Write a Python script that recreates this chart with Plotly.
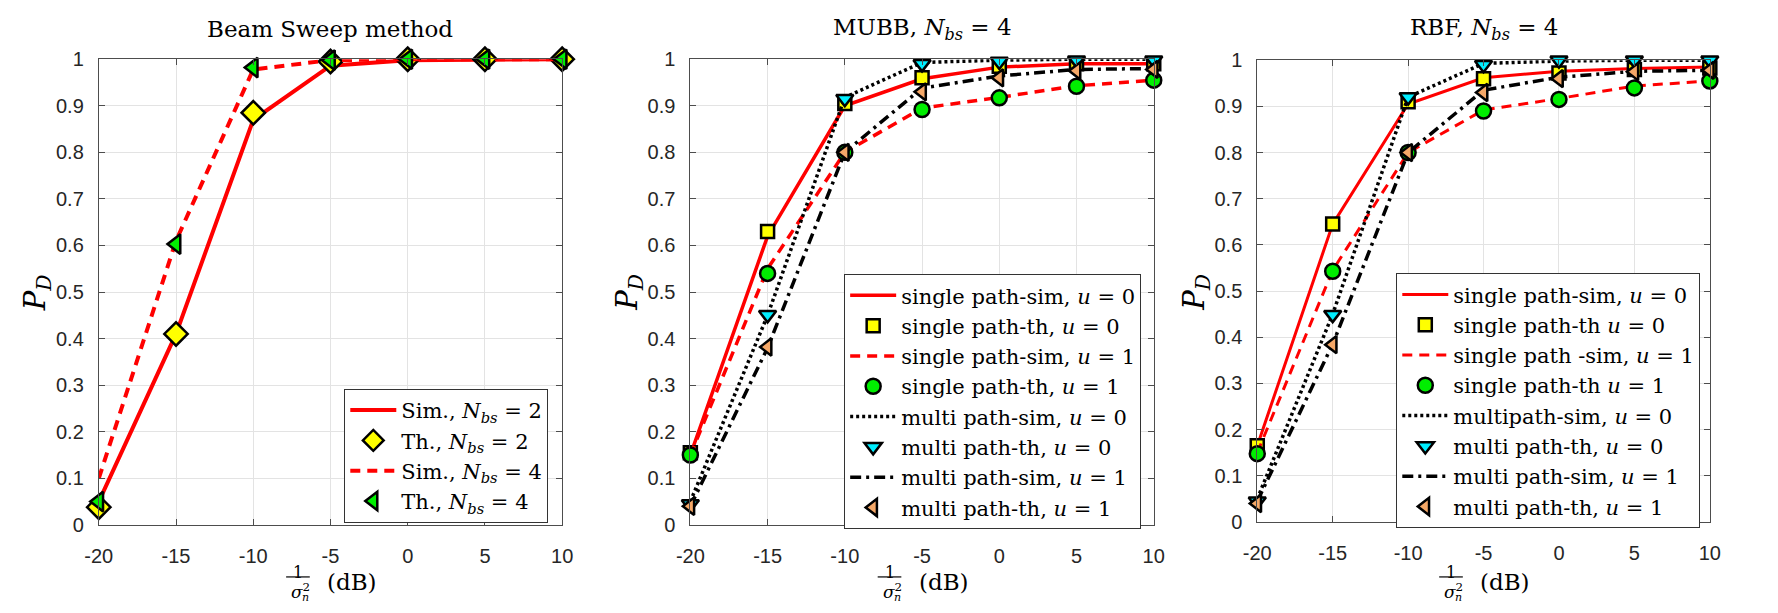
import plotly.graph_objects as go

# ---------------- data ----------------
X_DB = [-20, -15, -10, -5, 0, 5, 10]
X_TICK_VALS = [-20, -15, -10, -5, 0, 5, 10]
X_TICK_TEXT = ["-20", "-15", "-10", "-5", "0", "5", "10"]
Y_TICK_VALS = [0, 0.1, 0.2, 0.3, 0.4, 0.5, 0.6, 0.7, 0.8, 0.9, 1.0]
Y_TICK_TEXT = ["0", "0.1", "0.2", "0.3", "0.4", "0.5", "0.6", "0.7", "0.8", "0.9", "1"]

PANEL_TITLES = ["Beam Sweep method",
                "MUBB, <i>N</i><sub><i>bs</i></sub> = 4",
                "RBF, <i>N</i><sub><i>bs</i></sub> = 4"]

# Beam sweep panel
BS_SIM_N2 = [0.05, 0.41, 0.870, 0.986, 0.998, 1.0, 1.0]
BS_TH_N2 = [0.038, 0.41, 0.885, 0.995, 1.0, 1.0, 1.0]
BS_SIM_N4 = [0.10, 0.61, 0.978, 0.998, 1.0, 1.0, 1.0]
BS_TH_N4 = [0.05, 0.603, 0.982, 0.998, 1.0, 1.0, 1.0]
BS_LABELS = ["Sim., <i>N</i><sub><i>bs</i></sub> = 2",
             "Th., <i>N</i><sub><i>bs</i></sub> = 2",
             "Sim., <i>N</i><sub><i>bs</i></sub> = 4",
             "Th., <i>N</i><sub><i>bs</i></sub> = 4"]

# MUBB panel
MU_SP_SIM_U0 = [0.15, 0.62, 0.90, 0.958, 0.983, 0.99, 0.99]
MU_SP_TH_U0 = [0.155, 0.63, 0.905, 0.96, 0.985, 0.99, 0.99]
MU_SP_SIM_U1 = [0.15, 0.55, 0.80, 0.895, 0.918, 0.943, 0.955]
MU_SP_TH_U1 = [0.15, 0.54, 0.80, 0.892, 0.917, 0.942, 0.955]
MU_MP_SIM_U0 = [0.05, 0.45, 0.918, 0.993, 0.998, 1.0, 1.0]
MU_MP_TH_U0 = [0.045, 0.451, 0.915, 0.99, 0.995, 0.998, 0.998]
MU_MP_SIM_U1 = [0.04, 0.38, 0.80, 0.938, 0.964, 0.978, 0.98]
MU_MP_TH_U1 = [0.04, 0.382, 0.80, 0.93, 0.96, 0.975, 0.978]
MU_LABELS = ["single path-sim, <i>u</i> = 0",
             "single path-th, <i>u</i> = 0",
             "single path-sim, <i>u</i> = 1",
             "single path-th, <i>u</i> = 1",
             "multi path-sim, <i>u</i> = 0",
             "multi path-th, <i>u</i> = 0",
             "multi path-sim, <i>u</i> = 1",
             "multi path-th, <i>u</i> = 1"]

# RBF panel
RB_SP_SIM_U0 = [0.165, 0.645, 0.905, 0.962, 0.976, 0.982, 0.985]
RB_SP_TH_U0 = [0.165, 0.645, 0.91, 0.96, 0.972, 0.98, 0.983]
RB_SP_SIM_U1 = [0.15, 0.545, 0.80, 0.892, 0.917, 0.944, 0.955]
RB_SP_TH_U1 = [0.148, 0.543, 0.80, 0.89, 0.915, 0.94, 0.955]
RB_MP_SIM_U0 = [0.05, 0.45, 0.92, 0.993, 0.998, 1.0, 1.0]
RB_MP_TH_U0 = [0.045, 0.449, 0.92, 0.99, 1.0, 1.0, 1.0]
RB_MP_SIM_U1 = [0.045, 0.385, 0.80, 0.935, 0.963, 0.976, 0.978]
RB_MP_TH_U1 = [0.04, 0.384, 0.80, 0.93, 0.96, 0.975, 0.978]
RB_LABELS = ["single path-sim, <i>u</i> = 0",
             "single path-th <i>u</i> = 0",
             "single path -sim, <i>u</i> = 1",
             "single path-th <i>u</i> = 1",
             "multipath-sim, <i>u</i> = 0",
             "multi path-th, <i>u</i> = 0",
             "multi path-sim, <i>u</i> = 1",
             "multi path-th, <i>u</i> = 1"]

# ---------------- layout geometry (pixels) ----------------
W, H = 1778, 613
PANELS = [  # left, right, top, bottom
    (86, 556, 50, 533),
    (686, 1156, 50, 533),
    (1261, 1720, 51, 530),
]
LEGEND_POS = [(335, 392), (842, 273), (1402, 272)]

SERIF = "DejaVu Serif, Liberation Serif, serif"
SANS = "Liberation Sans, Arial, sans-serif"
RED = "#ff0000"
YELLOW = "#ffff00"
GREEN = "#00ee00"
CYAN = "#00eeff"
ORANGE = "#f5a868"


def px(x):
    return x / W


def py(y):
    return 1 - y / H


fig = go.Figure()


def axis_suffix(i):
    return "" if i == 0 else str(i + 1)


def add_line(i, y, name, color, dash, width):
    s = axis_suffix(i)
    fig.add_trace(go.Scatter(
        x=X_DB, y=y, name=name, mode="lines",
        line=dict(color=color, dash=dash, width=width),
        xaxis="x" + s, yaxis="y" + s, legend="legend" + s,
        cliponaxis=False, showlegend=True))


def add_markers(i, y, name, symbol, fill, size):
    s = axis_suffix(i)
    fig.add_trace(go.Scatter(
        x=X_DB, y=y, name=name, mode="markers",
        marker=dict(symbol=symbol, color=fill, size=size,
                    line=dict(color="black", width=2.5)),
        xaxis="x" + s, yaxis="y" + s, legend="legend" + s,
        cliponaxis=False, showlegend=True))


DASH = "10px,7px"
DOT = "3px,3px"
DASHDOT = "11px,5px,3px,5px"

# Panel 1
add_line(0, BS_SIM_N2, BS_LABELS[0], RED, "solid", 4)
add_markers(0, BS_TH_N2, BS_LABELS[1], "diamond", YELLOW, 18)
add_line(0, BS_SIM_N4, BS_LABELS[2], RED, DASH, 4)
add_markers(0, BS_TH_N4, BS_LABELS[3], "triangle-left", GREEN, 17)

# Panels 2 and 3
for i, (series, labels) in enumerate([
    ([MU_SP_SIM_U0, MU_SP_TH_U0, MU_SP_SIM_U1, MU_SP_TH_U1,
      MU_MP_SIM_U0, MU_MP_TH_U0, MU_MP_SIM_U1, MU_MP_TH_U1], MU_LABELS),
    ([RB_SP_SIM_U0, RB_SP_TH_U0, RB_SP_SIM_U1, RB_SP_TH_U1,
      RB_MP_SIM_U0, RB_MP_TH_U0, RB_MP_SIM_U1, RB_MP_TH_U1], RB_LABELS),
], start=1):
    lw = 3.5 if i == 1 else 3
    add_line(i, series[0], labels[0], RED, "solid", lw)
    add_markers(i, series[1], labels[1], "square", YELLOW, 13)
    add_line(i, series[2], labels[2], RED, DASH, lw)
    add_markers(i, series[3], labels[3], "circle", GREEN, 15)
    add_line(i, series[4], labels[4], "black", DOT, 3.5)
    add_markers(i, series[5], labels[5], "triangle-down", CYAN, 15)
    add_line(i, series[6], labels[6], "black", DASHDOT, 3.5)
    add_markers(i, series[7], labels[7], "triangle-left", ORANGE, 15)

layout = dict(
    width=W, height=H, autosize=False,
    margin=dict(l=0, r=0, t=0, b=0),
    paper_bgcolor="white", plot_bgcolor="white",
    showlegend=True,
)

axis_common = dict(
    showline=True, linecolor="#4d4d4d", linewidth=1, mirror="ticks",
    ticks="inside", ticklen=6, tickcolor="#4d4d4d", tickwidth=1,
    showgrid=True, gridcolor="#e3e3e3", gridwidth=1, zeroline=False,
    tickfont=dict(family=SANS, size=20, color="#262626"),
)

annotations = []
shapes = []
for i, (l, r, t, b) in enumerate(PANELS):
    s = axis_suffix(i)
    layout["xaxis" + s] = dict(
        axis_common, domain=[px(l), px(r)], range=[-20, 10],
        tickvals=X_TICK_VALS, ticktext=X_TICK_TEXT,
        anchor="y" + s, ticklabelstandoff=13)
    layout["yaxis" + s] = dict(
        axis_common, domain=[py(b), py(t)], range=[0, 1],
        tickvals=Y_TICK_VALS, ticktext=Y_TICK_TEXT,
        anchor="x" + s, ticklabelstandoff=10)
    lx, ly = LEGEND_POS[i]
    layout["legend" + s] = dict(
        x=px(lx), y=py(ly), xanchor="left", yanchor="top",
        xref="paper", yref="paper",
        bgcolor="white", bordercolor="#333333", borderwidth=1,
        font=dict(family=SERIF, size=21, color="black"),
        itemwidth=46, tracegroupgap=0, traceorder="normal",
    )
    cx = (l + r) / 2
    # title
    annotations.append(dict(
        x=px(cx), y=py(19), xref="paper", yref="paper", showarrow=False,
        text=PANEL_TITLES[i], font=dict(family=SERIF, size=23, color="black"),
        xanchor="center", yanchor="middle"))
    # y label
    annotations.append(dict(
        x=px(l - 63), y=py(292), xref="paper", yref="paper",
        showarrow=False, textangle=-90,
        text="<i>P</i><sub><i>D</i></sub>",
        font=dict(family=SERIF, size=29, color="black"),
        xanchor="center", yanchor="middle"))
    # x label: fraction 1 / sigma_n^2 and (dB)
    fx = cx - 33
    annotations.append(dict(
        x=px(fx), y=py(582), xref="paper", yref="paper", showarrow=False,
        text="1", font=dict(family=SERIF, size=16, color="black"),
        xanchor="center", yanchor="middle"))
    shapes.append(dict(type="line", xref="paper", yref="paper",
                       x0=px(fx - 12), x1=px(fx + 12), y0=py(587), y1=py(587),
                       line=dict(color="black", width=1.2)))
    annotations.append(dict(
        x=px(fx + 3), y=py(602), xref="paper", yref="paper", showarrow=False,
        text="<i>σ</i><sup>2</sup>", font=dict(family=SERIF, size=17, color="black"),
        xanchor="center", yanchor="middle"))
    annotations.append(dict(
        x=px(fx + 8), y=py(608), xref="paper", yref="paper", showarrow=False,
        text="<i>n</i>", font=dict(family=SERIF, size=11, color="black"),
        xanchor="center", yanchor="middle"))
    annotations.append(dict(
        x=px(cx + 22), y=py(592), xref="paper", yref="paper", showarrow=False,
        text="(dB)", font=dict(family=SERIF, size=23, color="black"),
        xanchor="center", yanchor="middle"))

layout["annotations"] = annotations
layout["shapes"] = shapes
fig.update_layout(**layout)

fig.write_html("out.html")
